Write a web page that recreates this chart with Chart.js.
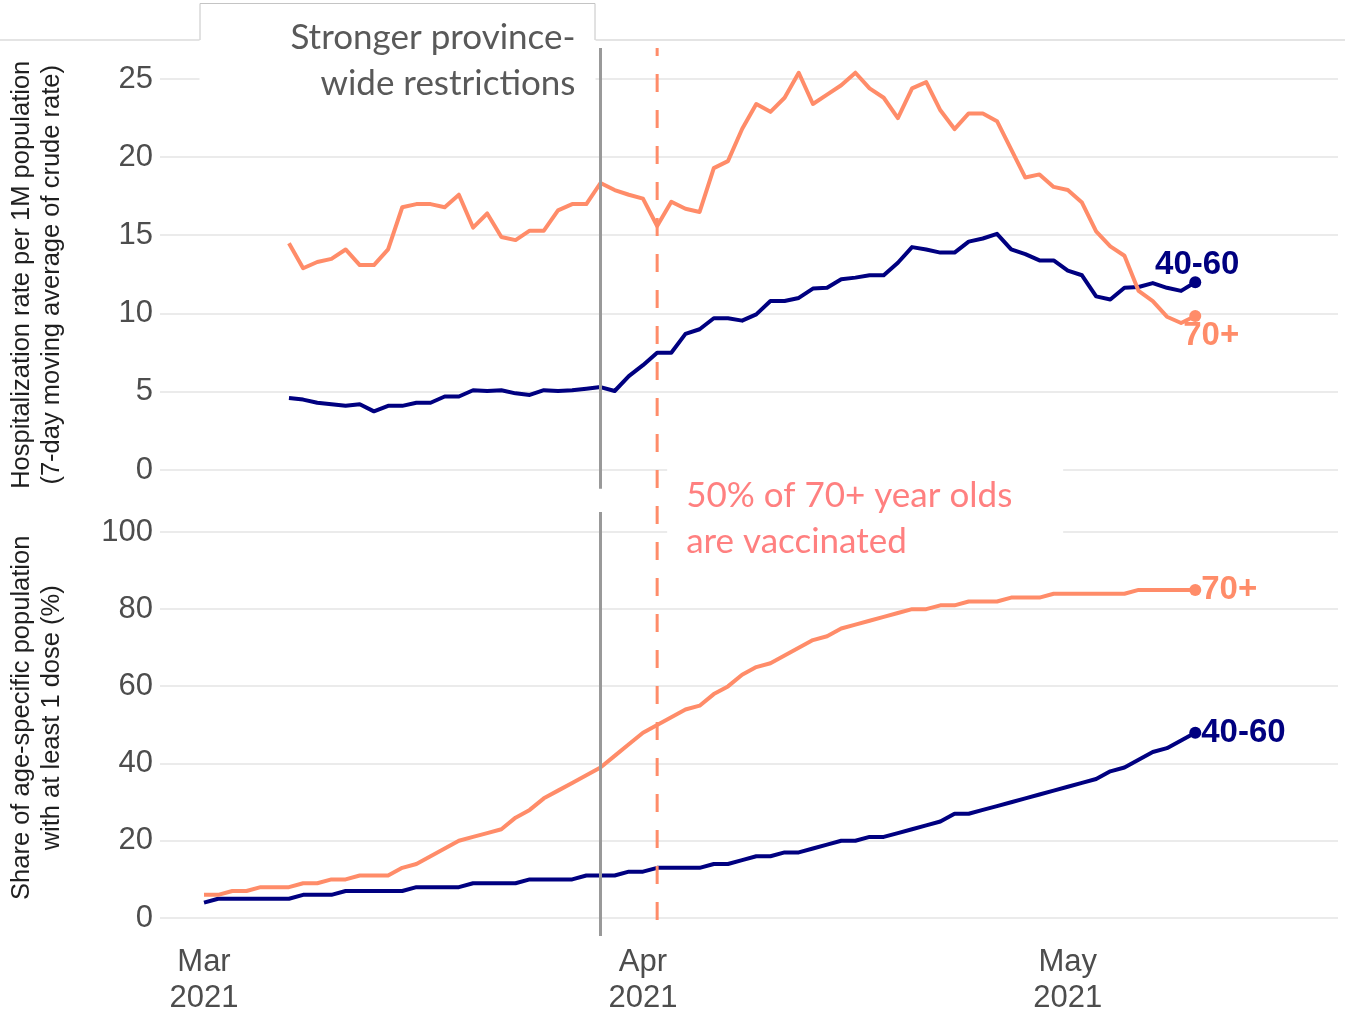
<!DOCTYPE html>
<html>
<head>
<meta charset="utf-8">
<script src="https://cdn.jsdelivr.net/npm/chart.js@4.4.1/dist/chart.umd.min.js"></script>
<style>
  html, body { margin: 0; padding: 0; background: #ffffff; }
  #wrap { position: relative; width: 1345px; height: 1012px; }
  canvas { display: block; }
</style>
</head>
<body>
<div id="wrap"><canvas id="c" width="1345" height="1012"></canvas></div>
<script>
// ---------------- DATA ----------------
// x values are days since 2021-03-01 (day 0 = Mar 1, 2021)
const monthTickDays   = [0, 31, 61];
const monthTickLabels = [['Mar', '2021'], ['Apr', '2021'], ['May', '2021']];

const hospTicks = [0, 5, 10, 15, 20, 25];
const vaxTicks  = [0, 20, 40, 60, 80, 100];

// Hospitalization rate per 1M (7-day moving average), daily from 2021-03-07 (day 6) to 2021-05-10 (day 70)
const hospStartDay = 6;
const hosp70 = [14.5, 12.9, 13.3, 13.5, 14.1, 13.1, 13.1, 14.1, 16.8, 17.0,
                17.0, 16.8, 17.6, 15.5, 16.4, 14.9, 14.7, 15.3, 15.3, 16.6,
                17.0, 17.0, 18.35, 17.9, 17.6, 17.35, 15.6, 17.15, 16.7, 16.5,
                19.3, 19.75, 21.8, 23.4, 22.9, 23.8, 25.4, 23.4, 24.0, 24.6,
                25.4, 24.4, 23.8, 22.5, 24.4, 24.8, 23.0, 21.8, 22.8, 22.8,
                22.3, 20.5, 18.7, 18.9, 18.1, 17.9, 17.1, 15.25, 14.3, 13.7,
                11.45, 10.8, 9.8, 9.4, 9.85];
const hosp4060 = [4.6, 4.5, 4.3, 4.2, 4.1, 4.2, 3.75, 4.1, 4.1, 4.3,
                  4.3, 4.7, 4.7, 5.1, 5.05, 5.1, 4.9, 4.8, 5.1, 5.05,
                  5.1, 5.2, 5.3, 5.05, 6.0, 6.7, 7.5, 7.5, 8.7, 9.0,
                  9.7, 9.7, 9.55, 9.95, 10.8, 10.8, 11.0, 11.6, 11.65, 12.2,
                  12.3, 12.45, 12.45, 13.25, 14.25, 14.1, 13.9, 13.9, 14.6, 14.8,
                  15.1, 14.1, 13.8, 13.4, 13.4, 12.75, 12.45, 11.1, 10.9, 11.65,
                  11.7, 11.95, 11.65, 11.45, 12.0];

// Share with at least 1 dose (%), daily from 2021-03-01 (day 0) to 2021-05-10 (day 70)
const vaxStartDay = 0;
const vax70 = [6, 6, 7, 7, 8, 8, 8, 9, 9, 10,
               10, 11, 11, 11, 13, 14, 16, 18, 20, 21,
               22, 23, 26, 28, 31, 33, 35, 37, 39, 42,
               45, 48, 50, 52, 54, 55, 58, 60, 63, 65,
               66, 68, 70, 72, 73, 75, 76, 77, 78, 79,
               80, 80, 81, 81, 82, 82, 82, 83, 83, 83,
               84, 84, 84, 84, 84, 84, 85, 85, 85, 85, 85];
const vax4060 = [4, 5, 5, 5, 5, 5, 5, 6, 6, 6,
                 7, 7, 7, 7, 7, 8, 8, 8, 8, 9,
                 9, 9, 9, 10, 10, 10, 10, 11, 11, 11,
                 12, 12, 13, 13, 13, 13, 14, 14, 15, 16,
                 16, 17, 17, 18, 19, 20, 20, 21, 21, 22,
                 23, 24, 25, 27, 27, 28, 29, 30, 31, 32,
                 33, 34, 35, 36, 38, 39, 41, 43, 44, 46, 48];

const restrictionDay = 28;   // 2021-03-29: stronger province-wide restrictions
const halfVaxDay     = 32;   // 2021-04-02: 50% of 70+ vaccinated

const seriesNames = ['70+', '40-60'];
const annotRestrict = ['Stronger province-', 'wide restrictions'];
const annotVax      = ['50% of 70+ year olds', 'are vaccinated'];
const titleTop = ['Hospitalization rate per 1M population', '(7-day moving average of crude rate)'];
const titleBot = ['Share of age-specific population', 'with at least 1 dose (%)'];

// ---------------- STYLE ----------------
const C70 = '#FF8C69';
const C4060 = '#000080';
const CGRID = '#EBEBEB';
const CTICK = '#4D4D4D';

const toPts = (arr, start) => arr.map((v, i) => ({ x: start + i, y: v }));
const lastDot = ctx => (ctx.dataIndex === ctx.dataset.data.length - 1 ? 6 : 0);

function lineDs(label, data, axis, color) {
  return {
    label, data, yAxisID: axis,
    borderColor: color, backgroundColor: color,
    borderWidth: 4, tension: 0, fill: false,
    borderJoinStyle: 'round',
    pointRadius: lastDot, pointHoverRadius: lastDot,
    pointBackgroundColor: color, pointBorderWidth: 0
  };
}

const annotPlugin = {
  id: 'annot',
  beforeDatasetsDraw(chart) {
    const { ctx, chartArea: ca, scales } = chart;
    const gx = scales.x.getPixelForValue(restrictionDay);
    const dx = scales.x.getPixelForValue(halfVaxDay);
    const y0 = scales.yTop.getPixelForValue(0);
    ctx.save();
    // thin rule above the panel
    ctx.strokeStyle = '#E4E4E4';
    ctx.lineWidth = 2;
    ctx.beginPath();
    ctx.moveTo(0, ca.top - 10);
    ctx.lineTo(chart.width, ca.top - 10);
    ctx.stroke();
    // white text boxes hiding grid lines
    ctx.fillStyle = '#ffffff';
    ctx.fillRect(gx - 401, ca.top - 47, 396, 107);
    ctx.fillRect(dx + 10, y0 - 10, 396, 108);
    // outline of the restriction box (upper part)
    ctx.strokeStyle = '#C4C4C4';
    ctx.lineWidth = 1;
    ctx.beginPath();
    ctx.moveTo(gx - 400.5, ca.top - 10);
    ctx.lineTo(gx - 400.5, ca.top - 46.5);
    ctx.lineTo(gx - 5.5, ca.top - 46.5);
    ctx.lineTo(gx - 5.5, ca.top - 10);
    ctx.stroke();
    ctx.restore();
  },
  afterDatasetsDraw(chart) {
    const { ctx, chartArea: ca, scales } = chart;
    const { x, yTop, yBot } = scales;
    const gx = x.getPixelForValue(restrictionDay);
    const dx = x.getPixelForValue(halfVaxDay);
    const y0 = yTop.getPixelForValue(0);
    ctx.save();
    // grey restriction line, one segment per panel
    ctx.strokeStyle = '#999999';
    ctx.lineWidth = 3;
    ctx.beginPath();
    ctx.moveTo(gx, ca.top - 2);
    ctx.lineTo(gx, yTop.getPixelForValue(-1.2));
    ctx.moveTo(gx, yBot.getPixelForValue(105.2));
    ctx.lineTo(gx, ca.bottom);
    ctx.stroke();
    // dashed 50% vaccinated line
    ctx.strokeStyle = C70;
    ctx.lineWidth = 3;
    ctx.setLineDash([18, 18]);
    ctx.lineDashOffset = 10;
    ctx.beginPath();
    ctx.moveTo(dx, ca.top - 2);
    ctx.lineTo(dx, ca.bottom);
    ctx.stroke();
    ctx.setLineDash([]);

    // annotation texts
    ctx.font = '35px Lato, "Open Sans", sans-serif';
    ctx.textBaseline = 'middle';
    ctx.fillStyle = '#595959';
    ctx.textAlign = 'right';
    ctx.fillText(annotRestrict[0], gx - 25, ca.top - 12);
    ctx.fillText(annotRestrict[1], gx - 25, ca.top + 34);
    ctx.fillStyle = '#FF8080';
    ctx.textAlign = 'left';
    ctx.fillText(annotVax[0], dx + 29, y0 + 26);
    ctx.fillText(annotVax[1], dx + 29, y0 + 72);

    // end labels
    const last = i => { const m = chart.getDatasetMeta(i); return m.data[m.data.length - 1]; };
    ctx.font = 'bold 33px "Liberation Sans", Arial, sans-serif';
    let p = last(1); // hosp 40-60
    ctx.fillStyle = C4060; ctx.textAlign = 'center';
    ctx.fillText(seriesNames[1], p.x + 2, p.y - 17);
    p = last(0); // hosp 70+
    ctx.fillStyle = C70; ctx.textAlign = 'left';
    ctx.fillText(seriesNames[0], p.x - 12, p.y + 20);
    p = last(2); // vax 70+
    ctx.fillStyle = C70;
    ctx.fillText(seriesNames[0], p.x + 6, p.y);
    p = last(3); // vax 40-60
    ctx.fillStyle = C4060;
    ctx.fillText(seriesNames[1], p.x + 6, p.y);
    ctx.restore();
  }
};

const yCommon = (ticksArr, title, min, max, weight) => ({
  type: 'linear', position: 'left', stack: 'panels', stackWeight: weight,
  min, max,
  afterBuildTicks: s => { s.ticks = ticksArr.map(v => ({ value: v })); },
  afterFit: s => { s.width = 160; },
  grid: { color: CGRID, lineWidth: 2, drawTicks: false },
  border: { display: false },
  ticks: { padding: 7, color: CTICK, font: { family: 'Liberation Sans', size: 31 } },
  title: {
    display: true, text: title, color: '#1f1f1f',
    font: { family: 'Liberation Sans', size: 25.5, lineHeight: '30px' },
    padding: { top: 7, bottom: 0 }
  }
});

new Chart(document.getElementById('c'), {
  type: 'line',
  data: {
    datasets: [
      lineDs(seriesNames[0], toPts(hosp70, hospStartDay), 'yTop', C70),
      lineDs(seriesNames[1], toPts(hosp4060, hospStartDay), 'yTop', C4060),
      lineDs(seriesNames[0], toPts(vax70, vaxStartDay), 'yBot', C70),
      lineDs(seriesNames[1], toPts(vax4060, vaxStartDay), 'yBot', C4060)
    ]
  },
  options: {
    responsive: false,
    animation: false,
    events: [],
    layout: { padding: { top: 50, right: 7, bottom: -2, left: 0 } },
    plugins: { legend: { display: false }, tooltip: { enabled: false } },
    scales: {
      x: {
        type: 'linear', min: -3.107, max: 80.08,
        afterBuildTicks: s => { s.ticks = monthTickDays.map(v => ({ value: v })); },
        afterFit: s => { s.height = 78; },
        grid: { display: false, drawTicks: false },
        border: { display: false },
        ticks: {
          autoSkip: false, maxRotation: 0, padding: 8, color: CTICK,
          font: { family: 'Liberation Sans', size: 31, lineHeight: '36px' },
          callback: v => monthTickLabels[monthTickDays.indexOf(v)]
        }
      },
      // stacked left axes are placed bottom-up in declaration order
      yBot: yCommon(vaxTicks, titleBot, -4.66, 108.39, 1),
      yTop: yCommon(hospTicks, titleTop, -1.893, 26.854, 1.0302)
    }
  },
  plugins: [annotPlugin]
});
</script>
</body>
</html>
